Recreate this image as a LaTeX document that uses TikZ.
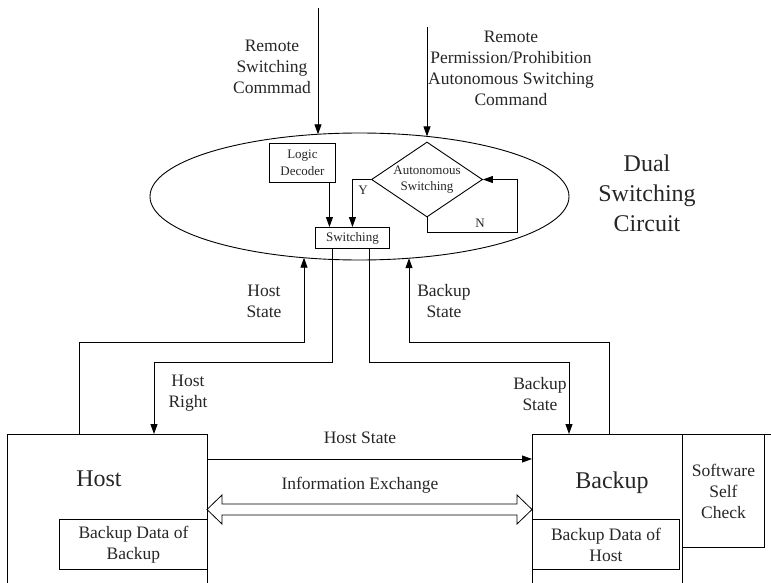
\documentclass[tikz,border=0pt]{standalone}
\usepackage{fontspec}
\setmainfont{Liberation Serif}
\usetikzlibrary{arrows.meta,shapes.geometric}
\begin{document}
\begin{tikzpicture}[x=1pt,y=-1pt,
  line width=0.9pt,
  arr/.style={-{Triangle[length=10pt,width=7pt]}},
  lbl/.style={align=center,font=\fontsize{17.5}{21}\selectfont,text=black!85,inner sep=0pt},
  small/.style={align=center,font=\fontsize{13}{16.5}\selectfont,text=black!85,inner sep=0pt},
  big/.style={align=center,font=\fontsize{24}{30}\selectfont,text=black!85,inner sep=0pt},
  box/.style={draw,inner sep=0pt,anchor=north west}]
\useasboundingbox (0,0) rectangle (771,583);
\clip (0,0) rectangle (771,583);

% ellipse
\node[ellipse,draw,minimum width=419pt,minimum height=127pt,inner sep=0pt] (dsc) at (359.5,196.5) {};
\node[big] (dsclbl) at (647,193) {Dual\\Switching\\Circuit};

% inputs
\coordinate (in1) at (318,8);
\coordinate (e1) at (318,134.3);
\coordinate (in2) at (427,27);
\coordinate (e2) at (427,136.4);
\draw[arr] (in1) -- (e1);
\draw[arr] (in2) -- (e2);
\node[lbl] (rsc) at (272,67) {Remote\\Switching\\Commmad};
\node[lbl] (rpp) at (511,68) {Remote\\Permission/Prohibition\\Autonomous Switching\\Command};

% inner nodes
\node[box,small,minimum width=66pt,minimum height=39pt] (logic) at (269,143) {Logic\\Decoder};
\node[diamond,draw,minimum width=111pt,minimum height=75pt,inner sep=-2pt,aspect=1.48,small] (dia) at (427,179.5) {Autonomous\\Switching};
\node[box,small,minimum width=74pt,minimum height=21pt] (switch) at (315,227) {Switching};

\draw[arr] ([xshift=27pt]logic.south) -- ([xshift=27pt]logic.south |- switch.north);
\draw[arr] (dia.west) -| (switch.north);
\node[small] (ylbl) at (363,190) {Y};
\coordinate (nloop) at (517,232);
\draw[arr] (dia.south) |- (nloop) |- (dia.east);
\node[small] (nlbl) at (480,223) {N};

% host / backup boxes
\node[box,minimum width=200pt,minimum height=200pt] (host) at (7,434) {};
\node[big] (hostlbl) at (99,479) {Host};
\node[box,lbl,minimum width=148pt,minimum height=50pt] (bdb) at (59,519) {Backup Data of\\Backup};

\node[box,minimum width=150pt,minimum height=200pt] (backup) at (532,434) {};
\node[big] (backuplbl) at (612,483) {Backup};
\node[box,lbl,minimum width=147pt,minimum height=50pt] (bdh) at (532,519) {Backup Data of\\Host};
\node[box,lbl,minimum width=82pt,minimum height=113pt] (ssc) at (682,434) {Software\\Self\\Check};
\coordinate (sscR) at (771,434);
\draw (ssc.north east) -- (sscR);

% state connectors
\coordinate (hsA) at (79,434);
\coordinate (b1) at (79,342);
\coordinate (e3) at (304,257.7);
\draw[arr] (hsA) -- (b1) -| (e3);
\node[lbl] (hslbl) at (264,301) {Host\\State};

\coordinate (b2) at (154,362);
\coordinate (hrEnd) at (154,434);
\draw[arr] ([xshift=-20pt]switch.south) |- (b2) -- (hrEnd);
\node[lbl] (hrlbl) at (188,393) {Host\\Right};

\coordinate (b3) at (569,362);
\coordinate (brEnd) at (569,434);
\draw[arr] ([xshift=17pt]switch.south) |- (b3) -- (brEnd);
\node[lbl] (brlbl) at (540,394) {Backup\\State};

\coordinate (bsA) at (609,434);
\coordinate (b4) at (609,342);
\coordinate (e4) at (409,258.2);
\draw[arr] (bsA) -- (b4) -| (e4);
\node[lbl] (bslbl) at (444,301) {Backup\\State};

% host state horizontal
\coordinate (hs1) at (207,459);
\coordinate (hs2) at (532,459);
\draw[arr] (hs1) -- (hs2);
\node[lbl] (hshlbl) at (360,438) {Host State};

% information exchange hollow double arrow
\coordinate (ie1) at (207,509.5);
\coordinate (ie2) at (532,509.5);
\draw[line width=0.8pt] (ie1) -- ++(15,-14.5) -- ++(0,9) -- ++(295,0) -- ++(0,-9) -- (ie2)
  -- ++(-15,14.5) -- ++(0,-9) -- ++(-295,0) -- ++(0,9) -- cycle;
\node[lbl] (ielbl) at (360,485) {Information Exchange};
\end{tikzpicture}
\end{document}
